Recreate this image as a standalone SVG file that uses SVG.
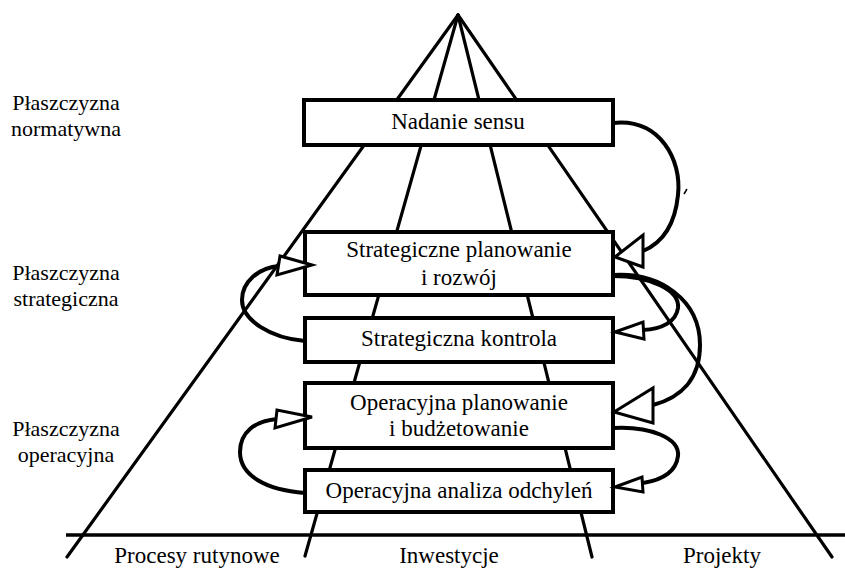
<svg xmlns="http://www.w3.org/2000/svg" width="845" height="569" viewBox="0 0 845 569">
<style>
.pl{stroke:#000;stroke-width:3.2;fill:none;stroke-linecap:round}
.box{fill:#fff;stroke:#000;stroke-width:4}
text{font-family:'Liberation Serif','DejaVu Serif',serif;fill:#000;text-anchor:middle}
.t{font-size:23px}
.lab{font-size:22px}
.arc{stroke:#000;stroke-width:4;fill:none}
.head{fill:#fff;stroke:#000;stroke-width:3;stroke-linejoin:miter}
</style>
<rect width="845" height="569" fill="#fff"/>
<g id="pyramid">
<line class="pl" x1="458" y1="15" x2="67" y2="557"/>
<line class="pl" x1="458" y1="15" x2="832" y2="557"/>
<line class="pl" x1="458" y1="15" x2="305" y2="556"/>
<line class="pl" x1="458" y1="15" x2="592" y2="557"/>
<line x1="66" y1="535" x2="845" y2="535" stroke="#000" stroke-width="3.5"/>
</g>
<g id="levels" font-family="Liberation Serif, DejaVu Serif, serif">
<text class="lab" x="66" y="110">Płaszczyzna</text>
<text class="lab" x="66" y="136">normatywna</text>
<text class="lab" x="66" y="280">Płaszczyzna</text>
<text class="lab" x="66" y="306">strategiczna</text>
<text class="lab" x="66" y="436">Płaszczyzna</text>
<text class="lab" x="66" y="462">operacyjna</text>
</g>
<g id="categories" font-family="Liberation Serif, DejaVu Serif, serif">
<text class="t" x="197" y="563">Procesy rutynowe</text>
<text class="t" x="449" y="563">Inwestycje</text>
<text class="t" x="722" y="563">Projekty</text>
</g>
<g id="n1" font-family="Liberation Serif, DejaVu Serif, serif">
<rect class="box" x="304" y="100" width="309" height="45"/>
<text class="t" x="458" y="129">Nadanie sensu</text>
</g>
<g id="n2" font-family="Liberation Serif, DejaVu Serif, serif">
<rect class="box" x="305" y="232" width="308" height="63"/>
<text class="t" x="459" y="257">Strategiczne planowanie</text>
<text class="t" x="459" y="285">i rozwój</text>
</g>
<g id="n3" font-family="Liberation Serif, DejaVu Serif, serif">
<rect class="box" x="305" y="318" width="308" height="44"/>
<text class="t" x="459" y="346">Strategiczna kontrola</text>
</g>
<g id="n4" font-family="Liberation Serif, DejaVu Serif, serif">
<rect class="box" x="305" y="383" width="308" height="65"/>
<text class="t" x="459" y="410">Operacyjna planowanie</text>
<text class="t" x="459" y="436">i budżetowanie</text>
</g>
<g id="n5" font-family="Liberation Serif, DejaVu Serif, serif">
<rect class="box" x="305" y="470" width="308" height="42"/>
<text class="t" x="459" y="498">Operacyjna analiza odchyleń</text>
</g>
<g id="connectors">
<path class="arc" d="M613,123 C660,118 682,160 678,195 C675,225 662,243 643,251"/>
<polygon class="head" points="615,257 643,235 643,267"/>
<path class="arc" d="M613,275 C660,272 700,300 700,345 C700,380 680,398 653,405"/>
<polygon class="head" points="614,412 653,388 653,423"/>
<path class="arc" d="M613,276 C650,276 680,290 678,308 C676,322 662,329 643,330"/>
<polygon class="head" points="615,332 643,322 644,339"/>
<path class="arc" d="M613,428 C650,426 680,438 678,456 C676,472 662,480 643,483"/>
<polygon class="head" points="615,487 642,477 643,492"/>
<path class="arc" d="M305,341 C270,338 242,320 242,300 C242,282 258,268 279,266"/>
<polygon class="head" points="312,265 280,256 277,275"/>
<path class="arc" d="M305,493 C265,490 240,475 240,452 C240,432 255,421 277,419"/>
<polygon class="head" points="312,417 277,410 275,428"/>
<path d="M684,194 L687,189" stroke="#000" stroke-width="1.5"/>
</g>
</svg>
